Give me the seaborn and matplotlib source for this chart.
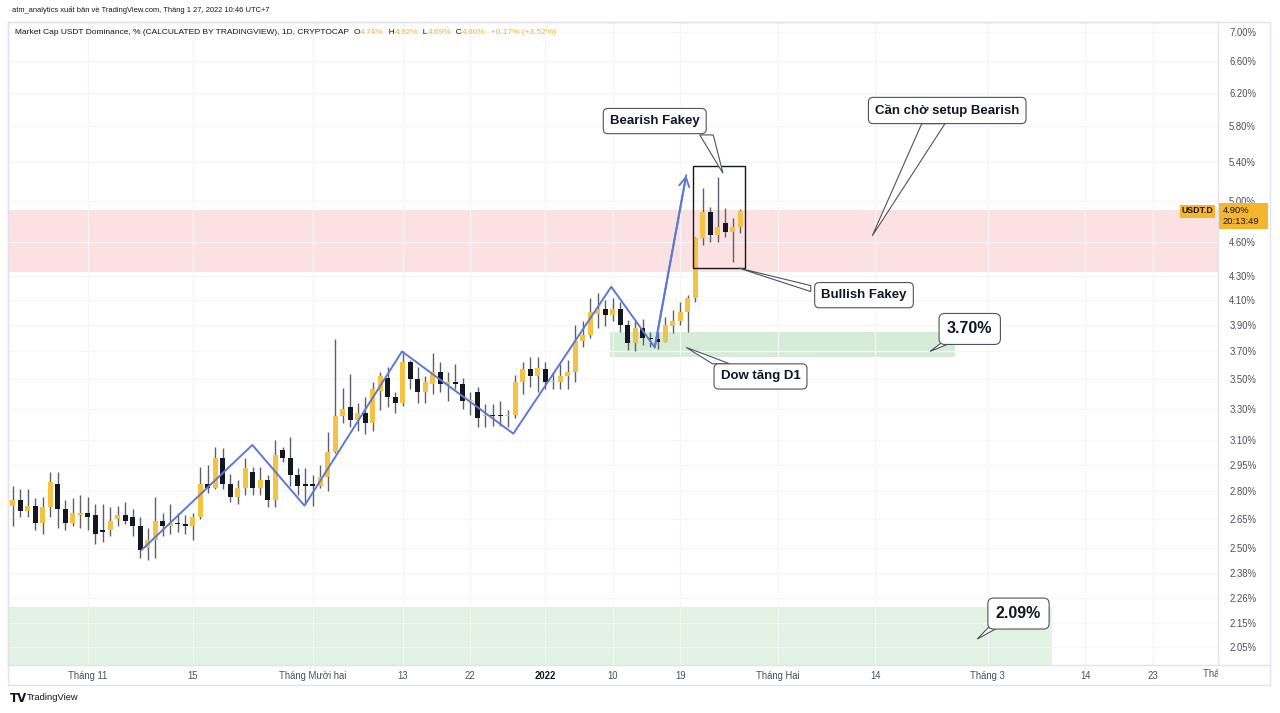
import numpy as np
import pandas as pd
import matplotlib
matplotlib.use("Agg")
import matplotlib.pyplot as plt
import seaborn as sns
from matplotlib import font_manager as fm
from matplotlib.patches import Rectangle, Polygon
from matplotlib.offsetbox import TextArea, HPacker, AnchoredOffsetbox
from matplotlib.transforms import Bbox, TransformedBbox, blended_transform_factory
from matplotlib.ticker import NullLocator, FixedLocator, FixedFormatter

# ------------------------------------------------------------------ data
start_date = "2021-10-22"
open_ = [2.72, 2.75, 2.69, 2.72, 2.63, 2.71, 2.84, 2.70, 2.63, 2.67,
         2.68, 2.67, 2.59, 2.59, 2.65, 2.67, 2.66, 2.61, 2.50, 2.54,
         2.64, 2.61, 2.63, 2.62, 2.61, 2.66, 2.84, 2.82, 2.99, 2.84,
         2.77, 2.82, 2.91, 2.82, 2.86, 2.75, 3.04, 2.99, 2.89, 2.84,
         2.84, 2.83, 2.88, 3.03, 3.25, 3.31, 3.23, 3.27, 3.21, 3.42,
         3.51, 3.38, 3.34, 3.62, 3.50, 3.41, 3.47, 3.55, 3.47, 3.48,
         3.47, 3.35, 3.41, 3.25, 3.26, 3.26, 3.25, 3.26, 3.48, 3.57,
         3.52, 3.57, 3.48, 3.48, 3.52, 3.55, 3.78, 3.82, 3.99, 4.03,
         3.98, 4.03, 3.90, 3.76, 3.88, 3.80, 3.79, 3.77, 3.89, 3.93,
         4.00, 4.12, 4.64, 4.89, 4.67, 4.78, 4.70, 4.74]
high = [2.83, 2.81, 2.81, 2.76, 2.77, 2.91, 2.91, 2.75, 2.76, 2.78,
        2.77, 2.73, 2.73, 2.71, 2.72, 2.74, 2.70, 2.66, 2.60, 2.77,
        2.68, 2.73, 2.68, 2.67, 2.68, 2.94, 2.95, 3.06, 3.05, 2.90,
        2.86, 2.99, 2.94, 2.94, 2.89, 3.10, 3.06, 3.12, 2.93, 2.93,
        2.89, 2.95, 3.15, 3.79, 3.44, 3.54, 3.34, 3.38, 3.48, 3.55,
        3.59, 3.41, 3.70, 3.64, 3.59, 3.52, 3.69, 3.62, 3.55, 3.61,
        3.51, 3.41, 3.45, 3.33, 3.33, 3.35, 3.29, 3.53, 3.62, 3.66,
        3.66, 3.62, 3.55, 3.61, 3.64, 3.90, 3.93, 4.12, 4.16, 4.10,
        4.12, 4.08, 3.94, 3.93, 3.95, 3.85, 3.85, 3.96, 4.02, 4.08,
        4.14, 4.65, 5.13, 4.94, 5.24, 4.93, 4.83, 4.92]
low = [2.61, 2.66, 2.66, 2.59, 2.57, 2.66, 2.60, 2.59, 2.61, 2.60,
       2.59, 2.52, 2.53, 2.56, 2.61, 2.62, 2.56, 2.45, 2.44, 2.45,
       2.56, 2.57, 2.58, 2.57, 2.54, 2.65, 2.79, 2.81, 2.81, 2.74,
       2.73, 2.78, 2.78, 2.78, 2.71, 2.71, 2.97, 2.83, 2.78, 2.73,
       2.72, 2.82, 2.80, 3.02, 3.21, 3.18, 3.16, 3.14, 3.16, 3.29,
       3.31, 3.27, 3.32, 3.43, 3.34, 3.34, 3.40, 3.41, 3.35, 3.43,
       3.30, 3.26, 3.18, 3.18, 3.19, 3.19, 3.18, 3.24, 3.40, 3.45,
       3.41, 3.43, 3.43, 3.43, 3.43, 3.48, 3.73, 3.80, 3.88, 3.89,
       3.93, 3.85, 3.71, 3.70, 3.75, 3.73, 3.72, 3.77, 3.84, 3.90,
       3.85, 4.08, 4.58, 4.60, 4.60, 4.65, 4.42, 4.69]
close = [2.75, 2.69, 2.72, 2.63, 2.71, 2.85, 2.70, 2.63, 2.68, 2.68,
         2.66, 2.57, 2.58, 2.64, 2.67, 2.64, 2.61, 2.49, 2.54, 2.64,
         2.61, 2.63, 2.62, 2.61, 2.66, 2.84, 2.82, 2.99, 2.84, 2.77,
         2.82, 2.93, 2.82, 2.86, 2.75, 3.01, 2.99, 2.89, 2.83, 2.83,
         2.83, 2.88, 3.03, 3.25, 3.30, 3.23, 3.27, 3.21, 3.43, 3.52,
         3.38, 3.34, 3.62, 3.50, 3.41, 3.48, 3.55, 3.47, 3.48, 3.47,
         3.35, 3.36, 3.24, 3.26, 3.25, 3.25, 3.26, 3.48, 3.57, 3.52,
         3.58, 3.48, 3.49, 3.52, 3.55, 3.78, 3.82, 4.00, 4.03, 3.98,
         4.03, 3.90, 3.76, 3.88, 3.80, 3.79, 3.77, 3.90, 3.93, 4.00,
         4.12, 4.64, 4.89, 4.67, 4.74, 4.70, 4.74, 4.90]

zigzag_day = [17.2, 31.95, 38.9, 51.9, 66.75, 79.8, 85.6, 89.8]
zigzag_price = [2.49, 3.07, 2.72, 3.70, 3.14, 4.21, 3.73, 5.26]

price_ticks = [2.05, 2.15, 2.26, 2.38, 2.50, 2.65, 2.80, 2.95, 3.10, 3.30, 3.50,
               3.70, 3.90, 4.10, 4.30, 4.60, 5.00, 5.40, 5.80, 6.20, 6.60, 7.00]
time_tick_dates = ["2021-11-01", "2021-11-15", "2021-12-01", "2021-12-13", "2021-12-22",
                   "2022-01-01", "2022-01-10", "2022-01-19", "2022-02-01", "2022-02-14",
                   "2022-03-01", "2022-03-14", "2022-03-23"]
time_tick_labels = ["Tháng 11", "15", "Tháng Mười hai", "13", "22", "2022", "10", "19",
                    "Tháng Hai", "14", "Tháng 3", "14", "23"]
clipped_tick_date, clipped_tick_label = "2022-04-01", "Tháng 4"

red_zone = (4.34, 4.91)
green_zone_1 = (79.6, 125.6, 3.66, 3.85)     # day0, day1, low, high
green_zone_2 = (138.6, 1.90, 2.22)           # day1, low, high (from left edge)
fakey_box = (90.7, 97.6, 4.37, 5.36)

callout_text = ["Bearish Fakey", "Cần chờ setup Bearish", "Bullish Fakey",
                "3.70%", "Dow tăng D1", "2.09%"]
callout_size = [9.5, 9.5, 9.5, 11.5, 9.5, 11.5]
callout_center = [(85.6, 5.86), (124.6, 5.985), (113.5, 4.14),
                  (127.6, 3.87), (99.7, 3.52), (134.1, 2.193)]
callout_tip = [(94.7, 5.28), (114.6, 4.66), (96.8, 4.37),
               (122.3, 3.70), (89.8, 3.73), (128.6, 2.084)]
callout_base = [((91.6, 5.70), (93.4, 5.70)), ((121.2, 5.83), (124.3, 5.83)),
                ((106.4, 4.22), (106.4, 4.17)), ((124.2, 3.78), (125.8, 3.78)),
                ((93.3, 3.61), (95.6, 3.61)), ((130.3, 2.14), (131.8, 2.14))]

header = "atm_analytics xuất bản về TradingView.com, Tháng 1 27, 2022 10:46 UTC+7"
legend_parts = [("Market Cap USDT Dominance, % (CALCULATED BY TRADINGVIEW), 1D, CRYPTOCAP  ", "dark"),
                ("O", "dark"), ("4.74%", "val"), ("  H", "dark"), ("4.92%", "val"),
                ("  L", "dark"), ("4.69%", "val"), ("  C", "dark"), ("4.90%", "val"),
                ("  +0.17% (+3.52%)", "val")]
symbol_label, countdown = "USDT.D", "20:13:49"

# ------------------------------------------------------------------ style
sns.set_theme(style="white")
names = {f.name for f in fm.fontManager.ttflist}
NARROW = "Liberation Sans Narrow" if "Liberation Sans Narrow" in names else "Liberation Sans"
k = 1.0 if NARROW == "Liberation Sans Narrow" else 0.84
plt.rcParams["font.family"] = ["Liberation Sans", "DejaVu Sans"]

YEL = "#f5c242"
BLK = "#131722"
WICK = "#5d606b"
BLUE = "#5c7ad2"
ORANGE = "#f5b52e"
GRID = "#f5f6f9"
BORDER = "#e0e3eb"
TXT = "#131722"
TICKTXT = "#4a4e5a"

W, H = 1280, 713
fig = plt.figure(figsize=(W / 100, H / 100), dpi=100)
fig.patch.set_facecolor("white")
ax = fig.add_axes([8 / W, 1 - 665 / H, 1210 / W, 643 / H])
ax.set_facecolor("white")

dates = pd.date_range(start_date, periods=len(close), freq="D")
day = np.arange(len(close))
df = pd.DataFrame({"date": dates, "day": day, "open": open_, "high": high,
                   "low": low, "close": close})
t0 = pd.Timestamp(start_date)

ax.set_yscale("log")
ax.set_xlim(-0.63, 160.7)
ax.set_ylim(1.979, 7.141)

# zones
ax.axhspan(red_zone[0], red_zone[1], color="#fce1e3", zorder=0, lw=0)
ax.add_patch(Rectangle((green_zone_1[0], green_zone_1[2]), green_zone_1[1] - green_zone_1[0],
                       green_zone_1[3] - green_zone_1[2], fc="#d5ecd6", ec="none", zorder=0))
ax.add_patch(Rectangle((-0.63, green_zone_2[1]), green_zone_2[0] + 0.63,
                       green_zone_2[2] - green_zone_2[1], fc="#e2f2e3", ec="none", zorder=0))

# grid
tick_days = [(pd.Timestamp(d) - t0).days for d in time_tick_dates]
for td in tick_days:
    ax.axvline(td, color=GRID, lw=0.9, zorder=0.5)
for p in price_ticks:
    ax.axhline(p, color=GRID, lw=0.9, zorder=0.5)

# candles
up = df["close"] >= df["open"]
colors = np.where(up, YEL, BLK)
ax.vlines(df["day"], df["low"], df["high"], color=WICK, lw=1.0, zorder=3)
body_lo = np.minimum(df["open"], df["close"])
body_h = np.maximum(np.abs(df["close"] - df["open"]), df["close"] * 0.003)
ax.bar(df["day"], body_h, bottom=body_lo, width=0.68, color=colors, lw=0, zorder=4)

# zigzag
zz = pd.DataFrame({"day": zigzag_day, "price": zigzag_price})
sns.lineplot(data=zz, x="day", y="price", ax=ax, color=BLUE, lw=1.4, sort=False,
             estimator=None, zorder=5)
ax.annotate("", xy=(zigzag_day[-1], zigzag_price[-1]), xytext=(zigzag_day[-2], zigzag_price[-2]),
            arrowprops=dict(arrowstyle="->,head_length=0.55,head_width=0.3", color=BLUE, lw=1.4,
                            shrinkA=0, shrinkB=0), zorder=5)

# fakey box
ax.add_patch(Rectangle((fakey_box[0], fakey_box[2]), fakey_box[1] - fakey_box[0],
                       fakey_box[3] - fakey_box[2], fc="none", ec=BLK, lw=1.0, zorder=6))

# callouts
for txt, sz, c, tip, base in zip(callout_text, callout_size, callout_center, callout_tip, callout_base):
    ax.add_patch(Polygon([base[0], tip, base[1]], closed=True, fc="white", ec="#50535e",
                         lw=0.8, zorder=7))
    ax.text(c[0], c[1], txt, ha="center", va="center", fontsize=sz, weight="bold", color=TXT,
            family=["Liberation Sans", "DejaVu Sans"], zorder=8,
            bbox=dict(boxstyle="round,pad=0.5,rounding_size=0.35", fc="white", ec="#50535e", lw=0.8))

# axes styling
ax.set_xlabel("")
ax.set_ylabel("")
for s in ax.spines.values():
    s.set_color(BORDER)
    s.set_linewidth(1.0)
ax.yaxis.tick_right()
ax.yaxis.set_major_locator(FixedLocator(price_ticks))
ax.yaxis.set_major_formatter(FixedFormatter([f"{p:.2f}%" for p in price_ticks]))
ax.yaxis.set_minor_locator(NullLocator())
ax.tick_params(axis="y", length=0, pad=8, labelsize=8.2 * k, labelcolor=TICKTXT)
ax.set_xticks(tick_days)
ax.set_xticklabels(time_tick_labels)
ax.tick_params(axis="x", length=0, pad=4, labelsize=8.2 * k, labelcolor=TICKTXT)
for lab in ax.get_xticklabels() + ax.get_yticklabels():
    lab.set_family([NARROW, "DejaVu Sans"])
for lab in ax.get_xticklabels():
    if lab.get_text() == "2022":
        lab.set_fontweight("bold")
        lab.set_color(TXT)

# clipped label at the right end of the time axis
tr = blended_transform_factory(ax.transData, ax.transAxes)
ct = ax.text((pd.Timestamp(clipped_tick_date) - t0).days, -4 / 643, clipped_tick_label,
             transform=tr, ha="center", va="top", fontsize=8.2 * k, color=TICKTXT,
             family=[NARROW, "DejaVu Sans"], clip_on=True)
ct.set_clip_box(TransformedBbox(Bbox([[0, 0], [1218 / W, 1]]), fig.transFigure))

# pane frame
fig.add_artist(Rectangle((8 / W, 1 - 685 / H), 1262 / W, 663 / H, transform=fig.transFigure,
                         fc="none", ec=BORDER, lw=1.0))
fig.add_artist(plt.Line2D([1218 / W, 1270 / W], [1 - 665 / H, 1 - 665 / H],
                          transform=fig.transFigure, color=BORDER, lw=1.0))

# price label for the last close
y_disp = ax.transData.transform((0, close[-1]))[1]
fig.add_artist(Rectangle((1219 / W, (y_disp - 18) / H), 49 / W, 26 / H, transform=fig.transFigure,
                         fc=ORANGE, ec="none"))
fig.text(1223 / W, y_disp / H, f"{close[-1]:.2f}%", ha="left", va="center", fontsize=8 * k,
         color=TXT, family=[NARROW, "DejaVu Sans"])
fig.text(1223 / W, (y_disp - 11) / H, countdown, ha="left", va="center", fontsize=8 * k,
         color=TXT, family=[NARROW, "DejaVu Sans"])
fig.add_artist(Rectangle((1180 / W, (y_disp - 7) / H), 35 / W, 13 / H, transform=fig.transFigure,
                         fc=ORANGE, ec="none"))
fig.text(1197.5 / W, y_disp / H, symbol_label, ha="center", va="center", fontsize=7.5 * k,
         color=TXT, weight="bold", family=[NARROW, "DejaVu Sans"])

# header & legend
fig.text(12 / W, 1 - 10 / H, header, ha="left", va="center", fontsize=6.4 * k, color=TXT,
         family=[NARROW, "DejaVu Sans"])
boxes = [TextArea(t, textprops=dict(color=(TXT if c == "dark" else ORANGE), fontsize=7.2 * k,
                                    family=[NARROW, "DejaVu Sans"])) for t, c in legend_parts]
pack = HPacker(children=boxes, align="baseline", pad=0, sep=0)
fig.add_artist(AnchoredOffsetbox(loc="center left", child=pack, pad=0, borderpad=0, frameon=False,
                                 bbox_to_anchor=(15 / W, 1 - 32 / H),
                                 bbox_transform=fig.transFigure))

# logo
fig.text(10 / W, 1 - 698 / H, "TV", ha="left", va="center", fontsize=8.5, weight="heavy",
         color=TXT, family=["DejaVu Sans"])
fig.text(27 / W, 1 - 698 / H, "TradingView", ha="left", va="center", fontsize=8 * k,
         color=TXT, family=[NARROW, "DejaVu Sans"])

fig.savefig("out.png", dpi=100, facecolor="white")
